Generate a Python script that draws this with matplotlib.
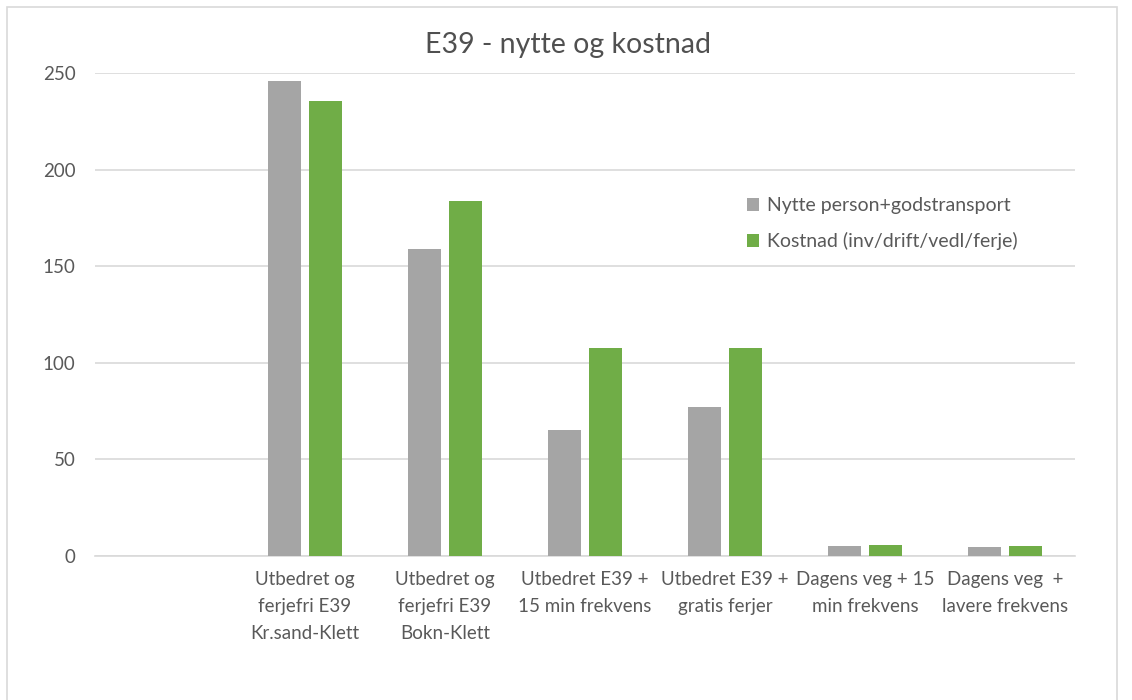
import matplotlib.pyplot as plt
import numpy as np
from matplotlib.patches import Rectangle

# Data lest av figuren
kategorier = ["",
              "Utbedret og\nferjefri E39\nKr.sand-Klett",
              "Utbedret og\nferjefri E39\nBokn-Klett",
              "Utbedret E39 +\n15 min frekvens",
              "Utbedret E39 +\ngratis ferjer",
              "Dagens veg + 15\nmin frekvens",
              "Dagens veg  +\nlavere frekvens"]
nytte = [np.nan, 246, 159, 65, 77, 5.2, 4.5]
kostnad = [np.nan, 235.5, 184, 107.5, 107.5, 5.7, 5.2]
serier = ["Nytte person+godstransport", "Kostnad (inv/drift/vedl/ferje)"]

plt.rcParams['font.family'] = ['Lato', 'DejaVu Sans']

fig = plt.figure(figsize=(11.32, 7.0), dpi=100)
ax = fig.add_axes([95 / 1132, 1 - 556 / 700, 980 / 1132, 483 / 700])

x = np.arange(len(kategorier))
bredde = 0.23
ax.bar(x - 0.146, nytte, bredde, color="#a5a5a5", label=serier[0], zorder=3)
ax.bar(x + 0.146, kostnad, bredde, color="#70ad47", label=serier[1], zorder=3)

ax.set_xlim(-0.5, len(kategorier) - 0.5)
ax.set_ylim(0, 250)
ax.set_yticks([0, 50, 100, 150, 200, 250])
ax.set_xticks(x)
ax.set_xticklabels(kategorier, fontsize=13.5, color="#595959", linespacing=1.7)
ax.tick_params(axis="y", labelsize=13.5, labelcolor="#595959", length=0, pad=14)
ax.tick_params(axis="x", length=0, pad=11)
ax.grid(axis="y", color="#d9d9d9", linewidth=1.2, zorder=0)
for s in ["top", "right", "left"]:
    ax.spines[s].set_visible(False)
ax.spines["bottom"].set_color("#d9d9d9")
ax.spines["bottom"].set_linewidth(1.2)

fig.text(568 / 1132, 1 - 45 / 700, "E39 - nytte og kostnad", ha="center", va="center",
         fontsize=20.5, color="#505050")

ax.legend(loc="upper left", bbox_to_anchor=(634 / 980, (556 - 180) / 483), frameon=False,
          fontsize=14, labelcolor="#595959", handlelength=0.65, handleheight=0.65,
          handletextpad=0.4, labelspacing=0.9)

# ramme rundt figuren
fig.patches.append(Rectangle((7 / 1132, -0.01), 1110 / 1132, 1 - 7 / 700 + 0.01,
                             transform=fig.transFigure, fill=False,
                             edgecolor="#d9d9d9", linewidth=1.2))

fig.savefig("out.png", dpi=100)
